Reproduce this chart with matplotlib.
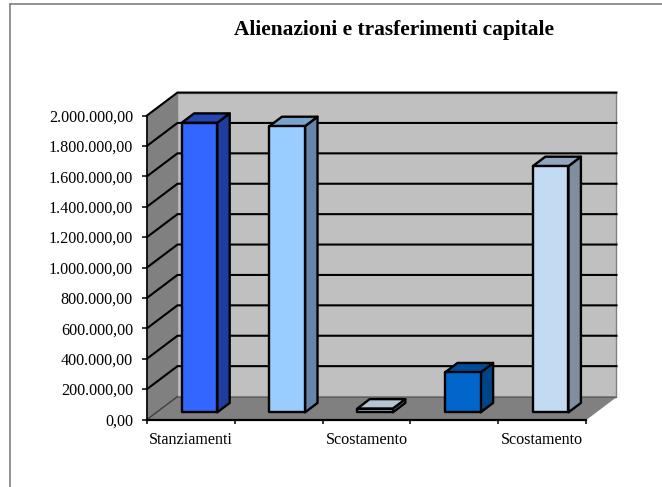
import matplotlib
matplotlib.use("Agg")
import matplotlib.pyplot as plt
from matplotlib.patches import Polygon
from matplotlib.lines import Line2D

plt.rcParams['font.family'] = ['Liberation Serif', 'DejaVu Sans']

categories = ["Stanziamenti", "", "Scostamento", "", "Scostamento"]
values = [1905000, 1883000, 25000, 263000, 1620000]
y_ticks = [0, 200000, 400000, 600000, 800000, 1000000, 1200000, 1400000, 1600000, 1800000, 2000000]
y_labels = ["0,00", "200.000,00", "400.000,00", "600.000,00", "800.000,00", "1.000.000,00",
            "1.200.000,00", "1.400.000,00", "1.600.000,00", "1.800.000,00", "2.000.000,00"]

front_colors = ['#3366FF', '#99CCFF', '#C0D4E8', '#0066CC', '#C2DAF2']
top_colors = ['#2447B2', '#7AA3CC', '#B4C4D4', '#004C99', '#92A6BE']
side_colors = ['#1F3D9E', '#6685A8', '#7F8C99', '#004488', '#808F9F']

W, H = 662, 487
fig = plt.figure(figsize=(W / 100, H / 100), dpi=100)
fig.patch.set_facecolor('white')

# axes = front plane of the 3d box
ax = fig.add_axes([147 / W, 1 - 419.5 / H, 439 / W, 304 / H])
ax.set_xlim(0, 5)
ax.set_ylim(0, 2000000)
ax.patch.set_visible(False)

# depth of the box and of the bars, in data units
dx = 0.347
dy = 151000
bar_w = 0.405
bar_x = 0.395
bar_dx = 0.142
bar_dy = 62000
base_y = 47000


def poly(pts, fc, z, ec='black', lw=0.0):
    ax.add_patch(Polygon(pts, closed=True, facecolor=fc, edgecolor=ec, linewidth=lw,
                         zorder=z, clip_on=False, joinstyle='round'))


# walls and floor
poly([(dx, dy), (5 + dx, dy), (5 + dx, 2000000 + dy), (dx, 2000000 + dy)], '#C0C0C0', 1, ec='#808080', lw=1.0)
poly([(0, 0), (dx, dy), (dx, 2000000 + dy), (0, 2000000)], '#808080', 1, ec='#808080', lw=0.8)
poly([(0, 0), (5, 0), (5 + dx, dy), (dx, dy)], '#808080', 1, ec='#808080', lw=0.8)

# gridlines on side and back wall
for t in y_ticks:
    if t == 0:
        continue
    ax.plot([0, dx, 5 + dx], [t, t + dy, t + dy], color='black', lw=1.5, zorder=2,
            clip_on=False, solid_joinstyle='miter')
ax.plot([0, dx], [0, dy], color='#404040', lw=1.0, zorder=2, clip_on=False)
ax.plot([dx, 5 + dx], [dy, dy], color='#606060', lw=0.8, zorder=2, clip_on=False)

# bars
for i, v in enumerate(values):
    x0 = i + bar_x
    x1 = x0 + bar_w
    y0 = base_y
    y1 = base_y + v
    lw = 1.7
    poly([(x1, y0), (x1 + bar_dx, y0 + bar_dy), (x1 + bar_dx, y1 + bar_dy), (x1, y1)], side_colors[i], 3, lw=lw)
    poly([(x0, y1), (x1, y1), (x1 + bar_dx, y1 + bar_dy), (x0 + bar_dx, y1 + bar_dy)], top_colors[i], 3, lw=lw)
    poly([(x0, y0), (x1, y0), (x1, y1), (x0, y1)], front_colors[i], 4, lw=lw)

# axes
for s in ['top', 'right']:
    ax.spines[s].set_visible(False)
ax.spines['left'].set_linewidth(1.2)
ax.spines['bottom'].set_linewidth(1.6)
ax.spines['left'].set_zorder(5)
ax.spines['bottom'].set_zorder(5)
ax.set_yticks(y_ticks)
ax.set_yticklabels(y_labels, fontsize=11.6)
ax.set_xticks(range(6))
ax.set_xticklabels([])
ax.tick_params(axis='y', length=3.6, width=1.1, pad=6.5, colors='black')
ax.tick_params(axis='x', length=3, width=1.1)
for i, c in enumerate(categories):
    ax.text(i + 0.5, -0.066, c, transform=ax.get_xaxis_transform(), ha='center', va='center',
            fontsize=11.6, color='black')

fig.text(394 / W, 1 - 30 / H, "Alienazioni e trasferimenti capitale", ha='center', va='center',
         fontsize=15.4, fontweight='bold', color='black')

# outer frame, only top and left edges reach the picture
fig.add_artist(Line2D([10 / W, 10 / W], [0, 1 - 3.5 / H], color='#808080', lw=1.2))
fig.add_artist(Line2D([10 / W, 1], [1 - 3.5 / H, 1 - 3.5 / H], color='#808080', lw=1.2))

fig.savefig('out.png', dpi=100, facecolor='white')
